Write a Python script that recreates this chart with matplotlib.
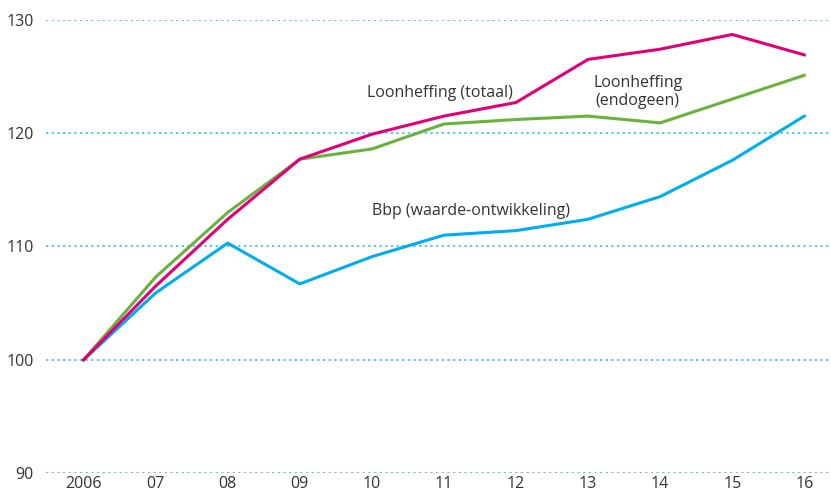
import matplotlib
matplotlib.use("Agg")
from matplotlib import pyplot as plt
import numpy as np

years = ["2006", "07", "08", "09", "10", "11", "12", "13", "14", "15", "16"]
loon_totaal = [100, 106.5, 112.4, 117.7, 119.9, 121.5, 122.7, 126.5, 127.4, 128.7, 126.9]
loon_endogeen = [100, 107.3, 113.0, 117.7, 118.6, 120.8, 121.2, 121.5, 120.9, 123.0, 125.1]
bbp = [100, 105.9, 110.3, 106.7, 109.1, 111.0, 111.4, 112.4, 114.4, 117.6, 121.5]
yticks = [90, 100, 110, 120, 130]

plt.rcParams['font.family'] = ['Open Sans', 'DejaVu Sans']
txt = '#333333'
fs = 11.5

fig = plt.figure(figsize=(8.31, 4.93), dpi=100)
ax = fig.add_axes([0.0554, 0.04, 0.9446, 0.92])
x = np.arange(len(years))

for y in yticks:
    ax.axhline(y, color='#29b6e8', lw=1.1, ls=(0, (1.5, 2.2)), zorder=1)

ax.plot(x, bbp, color='#00aeef', lw=2.2, zorder=3)
ax.plot(x, loon_endogeen, color='#6ab23e', lw=2.2, zorder=4)
ax.plot(x, loon_totaal, color='#e2007a', lw=2.2, zorder=5)

ax.text(4.94, 123.5, 'Loonheffing (totaal)', fontsize=fs, color=txt, ha='center', va='center')
ax.text(7.69, 123.6, 'Loonheffing\n(endogeen)', fontsize=fs, color=txt, ha='center', va='center',
        linespacing=1.15)
ax.text(5.38, 113.1, 'Bbp (waarde-ontwikkeling)', fontsize=fs, color=txt, ha='center', va='center')

ax.set_xlim(-0.52, 10.37)
ax.set_ylim(90, 130)
ax.set_xticks(x)
ax.set_xticklabels(years)
ax.set_yticks(yticks)
ax.tick_params(length=0, labelsize=fs, colors=txt, pad=2)
ax.tick_params(axis='y', pad=9)
for s in ax.spines.values():
    s.set_visible(False)

fig.savefig('out.png', dpi=100)
